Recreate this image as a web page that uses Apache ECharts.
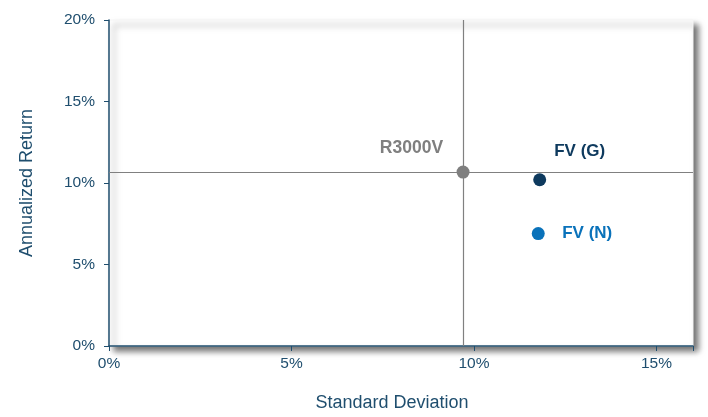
<!DOCTYPE html>
<html><head><meta charset="utf-8">
<script src="https://cdn.jsdelivr.net/npm/echarts@6/dist/echarts.min.js"></script>
<style>html,body{margin:0;padding:0;background:#fff;overflow:hidden}#c{width:708px;height:417px}</style>
</head><body><div id="c"></div>
<script>
const names = ['R3000V', 'FV (G)', 'FV (N)'];
const stdDev = [9.7, 11.8, 11.76];
const annReturn = [10.67, 10.2, 6.9];
const colors = ['#7f7f7f', '#0e3a5e', '#0a72ba'];
const xTicks = [0, 5, 10, 15];
const yTicks = [0, 5, 10, 15, 20];

const axisCol = '#1f4e6e';
const labelCfg = [
  {align: 'right', offset: [-20, -24], size: 17.5},
  {align: 'center', offset: [40, -28], size: 17},
  {align: 'left', offset: [24, 0], size: 17}
];
const series = names.map((n, i) => ({
  name: n, type: 'scatter', symbolSize: 13, z: 5,
  itemStyle: {color: colors[i], opacity: 1},
  data: [[stdDev[i], annReturn[i]]],
  label: {show: true, formatter: n, color: colors[i], fontWeight: 'bold', fontSize: labelCfg[i].size,
          fontFamily: 'Liberation Sans', position: ['50%', '50%'], align: labelCfg[i].align,
          verticalAlign: 'middle', offset: labelCfg[i].offset},
  markLine: i === 0 ? {
    silent: true, symbol: 'none', label: {show: false},
    lineStyle: {color: '#808080', type: 'solid', width: 1.2, opacity: 1},
    data: [{xAxis: stdDev[0]}, {yAxis: annReturn[0]}]
  } : undefined
}));

const chart = echarts.init(document.getElementById('c'));
chart.setOption({
  animation: false,
  grid: {left: 109, right: 15, top: 20, bottom: 67, show: true, backgroundColor: '#fff',
         borderColor: '#f4f4f4', borderWidth: 1,
         shadowColor: 'rgba(0,0,0,0.55)', shadowBlur: 6, shadowOffsetX: 5, shadowOffsetY: 5},
  xAxis: {type: 'value', min: 0, max: 16, interval: 5,
    name: 'Standard Deviation', nameLocation: 'middle', nameGap: 48,
    nameTextStyle: {color: axisCol, fontSize: 18, fontFamily: 'Liberation Sans', padding: [0, 18, 0, 0]},
    axisLine: {show: true, lineStyle: {color: axisCol, width: 1.5}},
    axisTick: {show: true, length: 5, lineStyle: {color: axisCol}},
    splitLine: {show: false},
    axisLabel: {color: axisCol, fontSize: 15.5, fontFamily: 'Liberation Sans', margin: 10,
      formatter: v => xTicks.includes(v) ? v + '%' : ''}},
  yAxis: {type: 'value', min: 0, max: 20, interval: 5,
    name: 'Annualized Return', nameLocation: 'middle', nameGap: 73, nameRotate: 90,
    nameTextStyle: {color: axisCol, fontSize: 18, fontFamily: 'Liberation Sans'},
    axisLine: {show: true, lineStyle: {color: axisCol, width: 1.5}},
    axisTick: {show: true, length: 5, lineStyle: {color: axisCol}},
    splitLine: {show: false},
    axisLabel: {color: axisCol, fontSize: 15.5, fontFamily: 'Liberation Sans', margin: 14,
      formatter: v => yTicks.includes(v) ? v + '%' : ''}},
  series: series
});
</script></body></html>
